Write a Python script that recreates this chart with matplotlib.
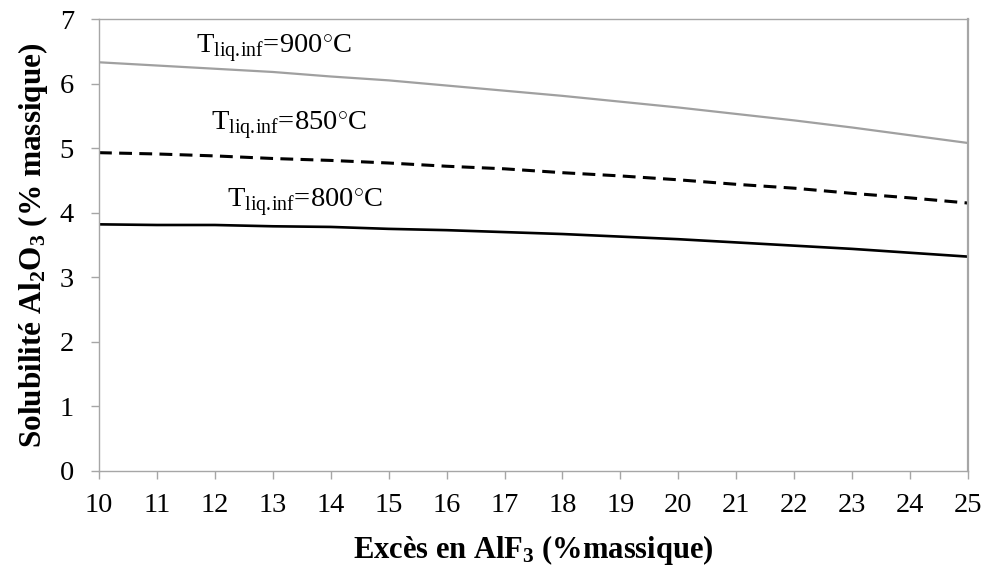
import matplotlib
matplotlib.use("Agg")
import matplotlib.pyplot as plt

plt.rcParams['font.family'] = ['Liberation Serif', 'DejaVu Serif']
plt.rcParams['mathtext.fontset'] = 'custom'
plt.rcParams['mathtext.rm'] = 'Liberation Serif'
plt.rcParams['mathtext.it'] = 'Liberation Serif:italic'
plt.rcParams['mathtext.bf'] = 'Liberation Serif:bold'

# AlF3 excess (wt %)
excess_alf3 = [10, 11, 12, 13, 14, 15, 16, 17, 18, 19, 20, 21, 22, 23, 24, 25]

# Al2O3 solubility (wt %) for each liquidus temperature
sol_900 = [6.33, 6.28, 6.23, 6.18, 6.11, 6.05, 5.97, 5.89, 5.81, 5.72,
           5.63, 5.53, 5.43, 5.32, 5.20, 5.08]
sol_850 = [4.93, 4.91, 4.88, 4.84, 4.81, 4.77, 4.72, 4.68, 4.62, 4.57,
           4.51, 4.44, 4.38, 4.30, 4.23, 4.15]
sol_800 = [3.82, 3.81, 3.81, 3.79, 3.78, 3.75, 3.73, 3.70, 3.67, 3.63,
           3.59, 3.54, 3.49, 3.44, 3.38, 3.32]

labels = [r'$\mathregular{T_{liq.\!inf}}$=900$^{\circ}$C',
          r'$\mathregular{T_{liq.\!inf}}$=850$^{\circ}$C',
          r'$\mathregular{T_{liq.\!inf}}$=800$^{\circ}$C']
label_xy = [(11.67, 6.48), (11.94, 5.28), (12.21, 4.08)]

fig = plt.figure(figsize=(9.84, 5.68), dpi=100)
ax = fig.add_axes([0.1006, 0.1708, 0.8831, 0.7957])

ax.plot(excess_alf3, sol_900, color='#a0a0a0', lw=1.6, solid_capstyle='butt')
ax.plot(excess_alf3, sol_850, color='black', lw=2.2, dashes=(4.2, 2.4))
ax.plot(excess_alf3, sol_800, color='black', lw=1.9)

for txt, (x, y) in zip(labels, label_xy):
    ax.text(x, y, txt, fontsize=20.5, ha='left', va='baseline')

ax.set_xlim(10, 25)
ax.set_ylim(0, 7)
ax.set_xticks(range(10, 26))
ax.set_yticks(range(0, 8))

for side in ['left', 'bottom', 'top', 'right']:
    ax.spines[side].set_color('#a6a6a6')
    ax.spines[side].set_linewidth(1.0)
ax.spines['right'].set_linewidth(1.6)

ax.tick_params(axis='both', direction='out', length=6, width=1,
               color='#a6a6a6', labelsize=20.5)
ax.tick_params(axis='x', pad=10)
ax.tick_params(axis='y', pad=12)

ax.set_xlabel(r'Excès en AlF$_\mathbf{3}$ (%massique)', fontsize=22,
              fontweight='bold', labelpad=11)
ax.set_ylabel(r'Solubilité Al$_\mathbf{2}$O$_\mathbf{3}$ (% massique)',
              fontsize=22.5, fontweight='bold', labelpad=7)

fig.savefig('out.png', dpi=100)
